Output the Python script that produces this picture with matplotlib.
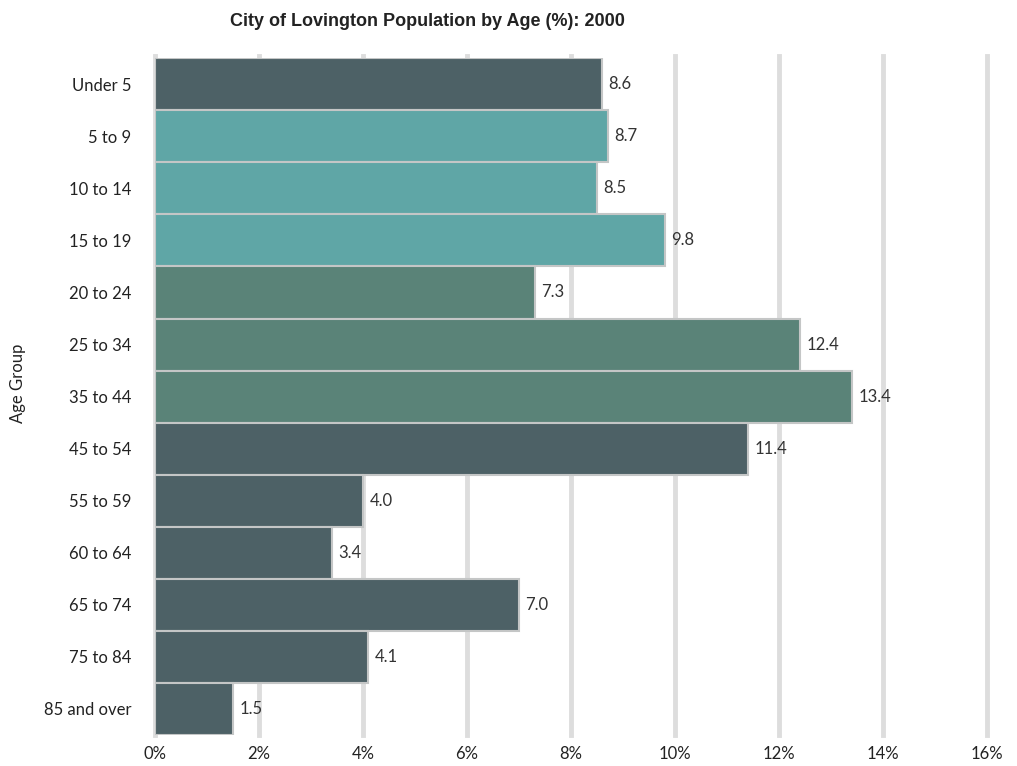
import matplotlib.pyplot as plt
import numpy as np

plt.rcParams["font.family"] = ["Lato", "DejaVu Sans"]

# --- Data ---
age_groups = ["Under 5", "5 to 9", "10 to 14", "15 to 19", "20 to 24", "25 to 34",
              "35 to 44", "45 to 54", "55 to 59", "60 to 64", "65 to 74", "75 to 84",
              "85 and over"]
percent = [8.6, 8.7, 8.5, 9.8, 7.3, 12.4, 13.4, 11.4, 4.0, 3.4, 7.0, 4.1, 1.5]
group_kind = ["dark", "teal", "teal", "teal", "green", "green", "green",
              "dark", "dark", "dark", "dark", "dark", "dark"]
xticks = [0, 2, 4, 6, 8, 10, 12, 14, 16]

palette = {"dark": "#4d6166", "teal": "#5fa6a6", "green": "#5a8378"}

fig = plt.figure(figsize=(10.17, 7.66), dpi=100)
ax = fig.add_axes([0.1524, 0.0405, 0.821, 0.8835])

y = np.arange(len(age_groups))
colors = [palette[k] for k in group_kind]
ax.barh(y, percent, height=1.0, color=colors, edgecolor="#c4c6c6",
        linewidth=1.5, zorder=3)

# value labels just past each bar end
for yi, v in zip(y, percent):
    ax.text(v + 0.12, yi, f"{v:.1f}", va="center", ha="left",
            fontsize=12, color="#333333", zorder=4)

ax.set_ylim(len(age_groups) - 0.5, -0.5)
ax.set_xlim(0, 16.05)
ax.set_yticks(y)
ax.set_yticklabels(age_groups, fontsize=12, color="#222222")
ax.set_xticks(xticks)
ax.set_xticklabels([f"{t}%" for t in xticks], fontsize=12, color="#222222")
ax.tick_params(axis="both", length=0)
ax.tick_params(axis="y", pad=17)
ax.tick_params(axis="x", pad=8)

for t in xticks:
    ax.axvline(t, ymin=0, ymax=1.004, color="#dddddd", linewidth=3.5, zorder=1,
               clip_on=False)

for s in ax.spines.values():
    s.set_visible(False)

fig.text(0.018, 0.5, "Age Group", rotation=90, ha="center", va="center",
         fontsize=12, color="#222222")
fig.text(0.42, 0.972, "City of Lovington Population by Age (%): 2000",
         ha="center", va="center", fontsize=13, fontweight="bold",
         family="Liberation Sans", color="#222222")

plt.savefig("out.png", dpi=100)
